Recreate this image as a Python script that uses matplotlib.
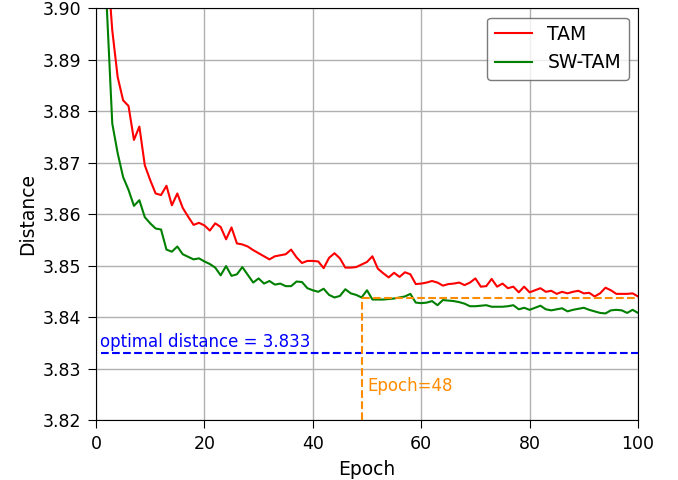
import numpy as np
import matplotlib.pyplot as plt

# -----------------------------
# Data
# -----------------------------

epochs = np.arange(1, 101)

tam = [
    3.935, 3.910, 3.8957, 3.8866, 3.8821, 3.8810, 3.8744, 3.8770, 3.8695, 3.8666,
    3.8640, 3.8637, 3.8655, 3.8617, 3.8640, 3.8612, 3.8595, 3.8579, 3.8583, 3.8578,
    3.8568, 3.8582, 3.8575, 3.8551, 3.8574, 3.8543, 3.8541, 3.8537, 3.8530, 3.8524,
    3.8518, 3.8512, 3.8518, 3.8520, 3.8522, 3.8531, 3.8516, 3.8505, 3.8509, 3.8509,
    3.8508, 3.8495, 3.8515, 3.8524, 3.8514, 3.8496, 3.8496, 3.8497, 3.8502, 3.8507,
    3.8518, 3.8494, 3.8485, 3.8477, 3.8486, 3.8478, 3.8487, 3.8483, 3.8464, 3.8465,
    3.8467, 3.8470, 3.8467, 3.8461, 3.8464, 3.8465, 3.8467, 3.8462, 3.8467, 3.8475,
    3.8459, 3.8460, 3.8474, 3.8459, 3.8465, 3.8456, 3.8459, 3.8448, 3.8459, 3.8448,
    3.8452, 3.8456, 3.8449, 3.8451, 3.8445, 3.8449, 3.8446, 3.8449, 3.8451, 3.8446,
    3.8447, 3.8440, 3.8446, 3.8457, 3.8452, 3.8445, 3.8445, 3.8445, 3.8446, 3.8440,
]

sw_tam = [
    3.925, 3.900, 3.8776, 3.8718, 3.8672, 3.8647, 3.8616, 3.8627, 3.8594, 3.8582,
    3.8572, 3.8570, 3.8531, 3.8527, 3.8537, 3.8522, 3.8517, 3.8512, 3.8514, 3.8508,
    3.8503, 3.8496, 3.8481, 3.8499, 3.8480, 3.8483, 3.8497, 3.8482, 3.8467, 3.8475,
    3.8465, 3.8470, 3.8463, 3.8465, 3.8460, 3.8460, 3.8469, 3.8468, 3.8456, 3.8452,
    3.8449, 3.8455, 3.8443, 3.8438, 3.8441, 3.8454, 3.8446, 3.8443, 3.8438, 3.8452,
    3.8434, 3.8434, 3.8434, 3.8435, 3.8436, 3.8438, 3.8440, 3.8445, 3.8428, 3.8427,
    3.8428, 3.8431, 3.8423, 3.8433, 3.8432, 3.8431, 3.8429, 3.8426, 3.8421, 3.8421,
    3.8422, 3.8423, 3.8420, 3.8420, 3.8420, 3.8421, 3.8423, 3.8415, 3.8418, 3.8414,
    3.8418, 3.8422, 3.8415, 3.8413, 3.8415, 3.8417, 3.8411, 3.8414, 3.8416, 3.8418,
    3.8414, 3.8411, 3.8408, 3.8407, 3.8413, 3.8414, 3.8413, 3.8408, 3.8414, 3.8408,
]

optimal = 3.833
conv_epoch = 49          # where SW-TAM reaches the TAM final level
conv_level = 3.8437
conv_label = "Epoch=48"

# -----------------------------
# Plot
# -----------------------------

fig = plt.figure(figsize=(6.78, 4.8), dpi=100)
ax = fig.add_axes([0.1416, 0.125, 0.7994, 0.858])

ax.plot(epochs, tam, color="red", lw=1.5, label="TAM")
ax.plot(epochs, sw_tam, color="green", lw=1.5, label="SW-TAM")

ax.hlines(optimal, 1, 100, colors="blue", linestyles="--", lw=1.5)
ax.text(0.7, optimal + 0.0004, f"optimal distance = {optimal}", color="blue",
        fontsize=12, va="bottom")

ax.vlines(conv_epoch, 3.82, conv_level, colors="darkorange", linestyles="--", lw=1.5)
ax.hlines(conv_level, conv_epoch, 100, colors="darkorange", linestyles="--", lw=1.5)
ax.text(conv_epoch + 1.1, 3.8266, conv_label, color="darkorange", fontsize=12,
        va="center")

ax.set_xlim(0, 100)
ax.set_ylim(3.82, 3.90)
ax.set_xticks(np.arange(0, 101, 20))
ax.set_yticks(np.arange(3.82, 3.9001, 0.01))
ax.set_yticklabels([f"{v:.2f}" for v in np.arange(3.82, 3.9001, 0.01)])
ax.tick_params(labelsize=12.5, length=6, pad=4.5)
ax.grid(True, color="#b0b0b0", lw=1)
ax.set_xlabel("Epoch", fontsize=13.5, labelpad=5)
ax.set_ylabel("Distance", fontsize=13.5)
leg = ax.legend(loc="upper right", fontsize=13.5)
leg.get_frame().set_edgecolor("0.35")

fig.savefig("out.png", dpi=100)
